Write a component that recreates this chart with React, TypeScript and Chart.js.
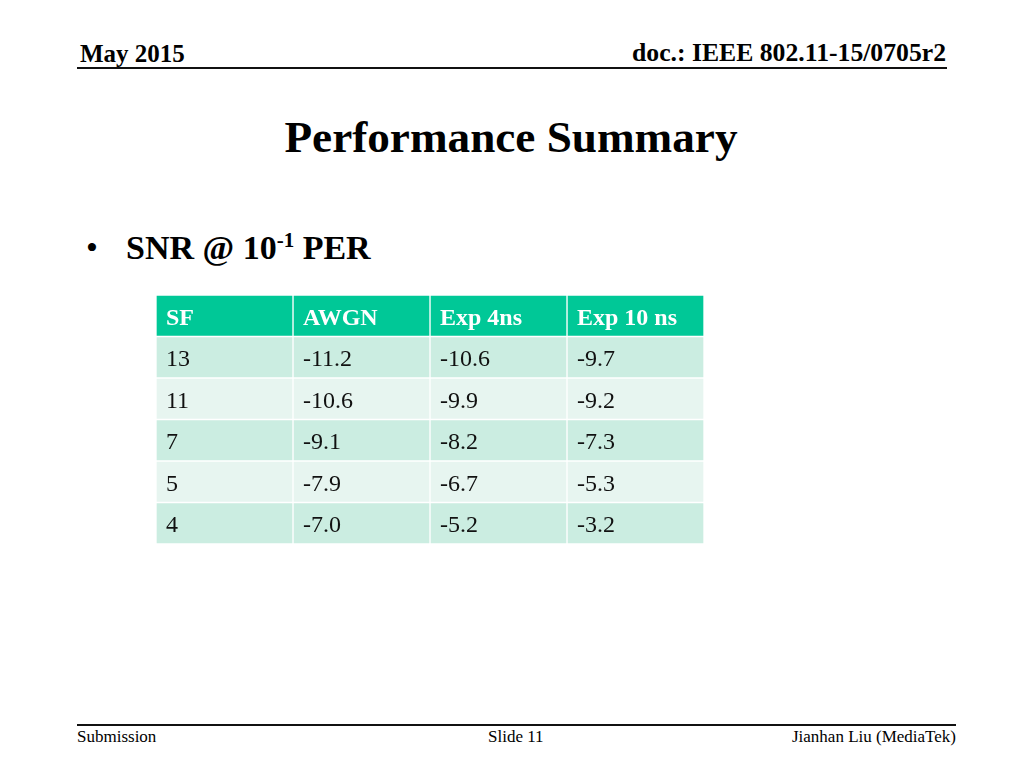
import React, { useEffect, useRef } from "react";
import { Chart, registerables } from "chart.js";

Chart.register(...registerables);

// ---- table data ----
const columns = ["SF", "AWGN", "Exp 4ns", "Exp 10 ns"];
const sfValues = ["13", "11", "7", "5", "4"];
const awgn = [-11.2, -10.6, -9.1, -7.9, -7.0];
const exp4ns = [-10.6, -9.9, -8.2, -6.7, -5.2];
const exp10ns = [-9.7, -9.2, -7.3, -5.3, -3.2];

const rowLabels = ["header", ...sfValues];

const HEADER_COLOR = "#00c897";
const ROW_DARK = "#cbede1";
const ROW_LIGHT = "#e7f5f0";
const SERIF = "'Times New Roman', 'Liberation Serif', serif";

function cellText(col: number, row: number): string {
  if (row === 0) return columns[col];
  const r = row - 1;
  if (col === 0) return sfValues[r];
  const arr = col === 1 ? awgn : col === 2 ? exp4ns : exp10ns;
  return arr[r].toFixed(1);
}

const cellTextPlugin = {
  id: "cellText",
  afterDatasetsDraw(chart: any) {
    const ctx = chart.ctx as CanvasRenderingContext2D;
    ctx.save();
    ctx.textAlign = "left";
    ctx.textBaseline = "alphabetic";
    chart.data.datasets.forEach((_ds: any, di: number) => {
      const meta = chart.getDatasetMeta(di);
      meta.data.forEach((bar: any, ri: number) => {
        const left = Math.min(bar.base, bar.x);
        const isHeader = ri === 0;
        ctx.font = `${isHeader ? "bold " : ""}24px ${SERIF}`;
        ctx.fillStyle = isHeader ? "#ffffff" : "#111111";
        ctx.fillText(cellText(di, ri), left + 10, bar.y + 9);
      });
    });
    ctx.restore();
  },
};

function TableChart() {
  const ref = useRef<HTMLCanvasElement | null>(null);
  useEffect(() => {
    if (!ref.current) return;
    const chart = new Chart(ref.current, {
      type: "bar",
      data: {
        labels: rowLabels,
        datasets: columns.map((c) => ({
          label: c,
          data: rowLabels.map(() => 1),
          backgroundColor: (ctx: any) =>
            ctx.dataIndex === 0 ? HEADER_COLOR : ctx.dataIndex % 2 === 1 ? ROW_DARK : ROW_LIGHT,
          borderColor: "#ffffff",
          borderWidth: 1,
          borderSkipped: false,
          barPercentage: 1,
          categoryPercentage: 1,
        })),
      },
      options: {
        indexAxis: "y",
        responsive: false,
        animation: false,
        devicePixelRatio: 1,
        layout: { padding: 0 },
        plugins: {
          legend: { display: false },
          tooltip: { enabled: false },
          title: { display: false },
        },
        events: [],
        scales: {
          x: { type: "linear", min: 0, max: columns.length, stacked: true, display: false },
          y: { type: "category", stacked: true, display: false },
        },
      } as any,
      plugins: [cellTextPlugin],
    });
    return () => chart.destroy();
  }, []);
  return (
    <canvas
      ref={ref}
      width={548}
      height={249}
      style={{ position: "absolute", left: 156, top: 295, width: 548, height: 249 }}
    />
  );
}

const abs = (o: React.CSSProperties): React.CSSProperties => ({
  position: "absolute",
  fontFamily: SERIF,
  color: "#000",
  whiteSpace: "nowrap",
  margin: 0,
  ...o,
});

export default function App() {
  return (
    <div style={{ position: "absolute", left: 0, top: 0, width: 1024, height: 768, background: "#fff", overflow: "hidden" }}>
      <div style={abs({ left: 80, top: 41, fontSize: 25, lineHeight: "25px", fontWeight: "bold" })}>May 2015</div>
      <div style={abs({ left: 0, width: 946, textAlign: "right", top: 40, fontSize: 25.7, lineHeight: "25.7px", fontWeight: "bold" })}>
        doc.: IEEE 802.11-15/0705r2
      </div>
      <div style={{ position: "absolute", left: 77, top: 67, width: 870, height: 2, background: "#111" }} />

      <div style={abs({ left: 0, width: 1022, textAlign: "center", top: 115, fontSize: 45.2, lineHeight: "45px", fontWeight: "bold" })}>
        Performance Summary
      </div>

      <div style={abs({ left: 86, top: 231, fontSize: 34, lineHeight: "34px" })}>•</div>
      <div style={abs({ left: 126, top: 231, fontSize: 34, lineHeight: "34px", fontWeight: "bold" })}>
        SNR @ 10
        <span style={{ fontSize: 21, position: "relative", top: -12 }}>-1</span> PER
      </div>

      <TableChart />

      <div style={{ position: "absolute", left: 77, top: 724, width: 879, height: 2, background: "#111" }} />
      <div style={abs({ left: 77, top: 728, fontSize: 17, lineHeight: "17px" })}>Submission</div>
      <div style={abs({ left: 488, top: 728, fontSize: 17, lineHeight: "17px" })}>Slide 11</div>
      <div style={abs({ left: 0, width: 956, textAlign: "right", top: 728, fontSize: 17, lineHeight: "17px" })}>
        Jianhan Liu (MediaTek)
      </div>
    </div>
  );
}
